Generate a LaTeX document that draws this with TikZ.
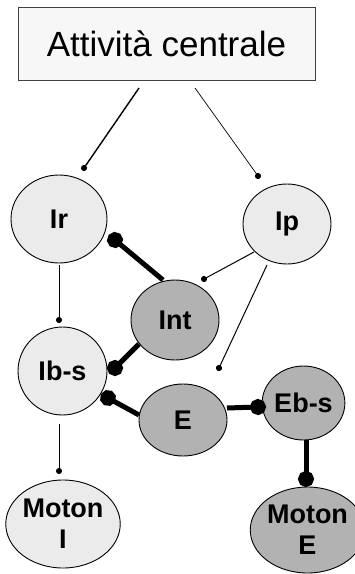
\documentclass[tikz,border=0pt]{standalone}
\usepackage{fontspec}
\setmainfont{Liberation Sans}
\usetikzlibrary{arrows.meta,calc,shapes.geometric}
\definecolor{lightfill}{HTML}{EBEBEB}
\definecolor{darkfill}{HTML}{B2B2B2}
\definecolor{boxfill}{HTML}{F7F7F7}
\begin{document}
\begin{tikzpicture}[x=1pt,y=-1pt,
  lbl/.style={font=\fontsize{27}{31}\selectfont\bfseries, align=center, inner sep=0pt, draw=black, line width=0.9pt, ellipse},
  lightnode/.style={lbl, fill=lightfill},
  darknode/.style={lbl, fill=darkfill},
  thinlink/.style={line width=1pt, -{Circle[length=6pt]}, shorten >=-3pt},
  thicklink/.style={line width=5pt, -{Circle[length=16pt]}, shorten >=-8pt},
]
\useasboundingbox (0,0) rectangle (355,574);
\node[draw=black!75, line width=1pt, fill=boxfill, minimum width=297pt, minimum height=73pt, inner sep=0pt,
  font=\fontsize{35}{40}\selectfont] (box) at (166.5,43.5) {Attività centrale};

\node[lightnode, minimum width=96pt, minimum height=88pt] (Ir) at (59,219) {Ir};
\node[lightnode, minimum width=88pt, minimum height=80pt] (Ip) at (287,224) {Ip};
\node[darknode, minimum width=88pt, minimum height=80pt] (Int) at (175,320) {Int};
\node[lightnode, minimum width=89pt, minimum height=88pt] (IbS) at (62.5,371) {Ib-s};
\node[darknode, minimum width=88pt, minimum height=72pt] (E) at (183,420) {E};
\node[darknode, minimum width=71pt, minimum height=74pt] (EbS) at (303.5,403) {Eb-s};
\node[lightnode, minimum width=104pt, minimum height=88pt] (MotonI) at (63,524) {Moton\\I};
\node[darknode, minimum width=96pt, minimum height=86pt] (MotonE) at (307.5,530) {Moton\\E};

% top connectors
\draw[thinlink, line width=1.4pt] ($(box)+(-27.5,44.5)$) -- ($(Ir)+(25,-51)$);
\draw[thinlink, line width=0.7pt] ($(box)+(28.5,44.5)$) -- ($(Ip)+(-29,-48)$);
% thin connectors
\draw[thinlink] ($(Ir)+(0,46)$) -- ($(IbS)+(-3.5,-51)$);
\draw[thinlink] ($(Ip)+(-33,28)$) -- ($(Int)+(29,-41)$);
\draw[thinlink] ($(Ip)+(-20,41)$) -- ($(E)+(36,-52)$);
\draw[thinlink] ($(IbS)+(-3.5,53)$) -- ($(MotonI)+(-4,-53)$);
% thick connectors
\draw[thicklink] ($(Int)+(-12,-40)$) -- ($(Ir)+(56,21)$);
\draw[thicklink] ($(Int)+(-36,24)$) -- ($(IbS)+(52.5,-3)$);
\draw[thicklink] ($(E)+(-44,-5)$) -- ($(IbS)+(45.5,27)$);
\draw[thicklink] ($(E)+(44,-12)$) -- ($(EbS)+(-45.5,4)$);
\draw[thicklink] ($(EbS)+(2.5,37)$) -- ($(MotonE)+(-1.5,-51)$);
\end{tikzpicture}
\end{document}
